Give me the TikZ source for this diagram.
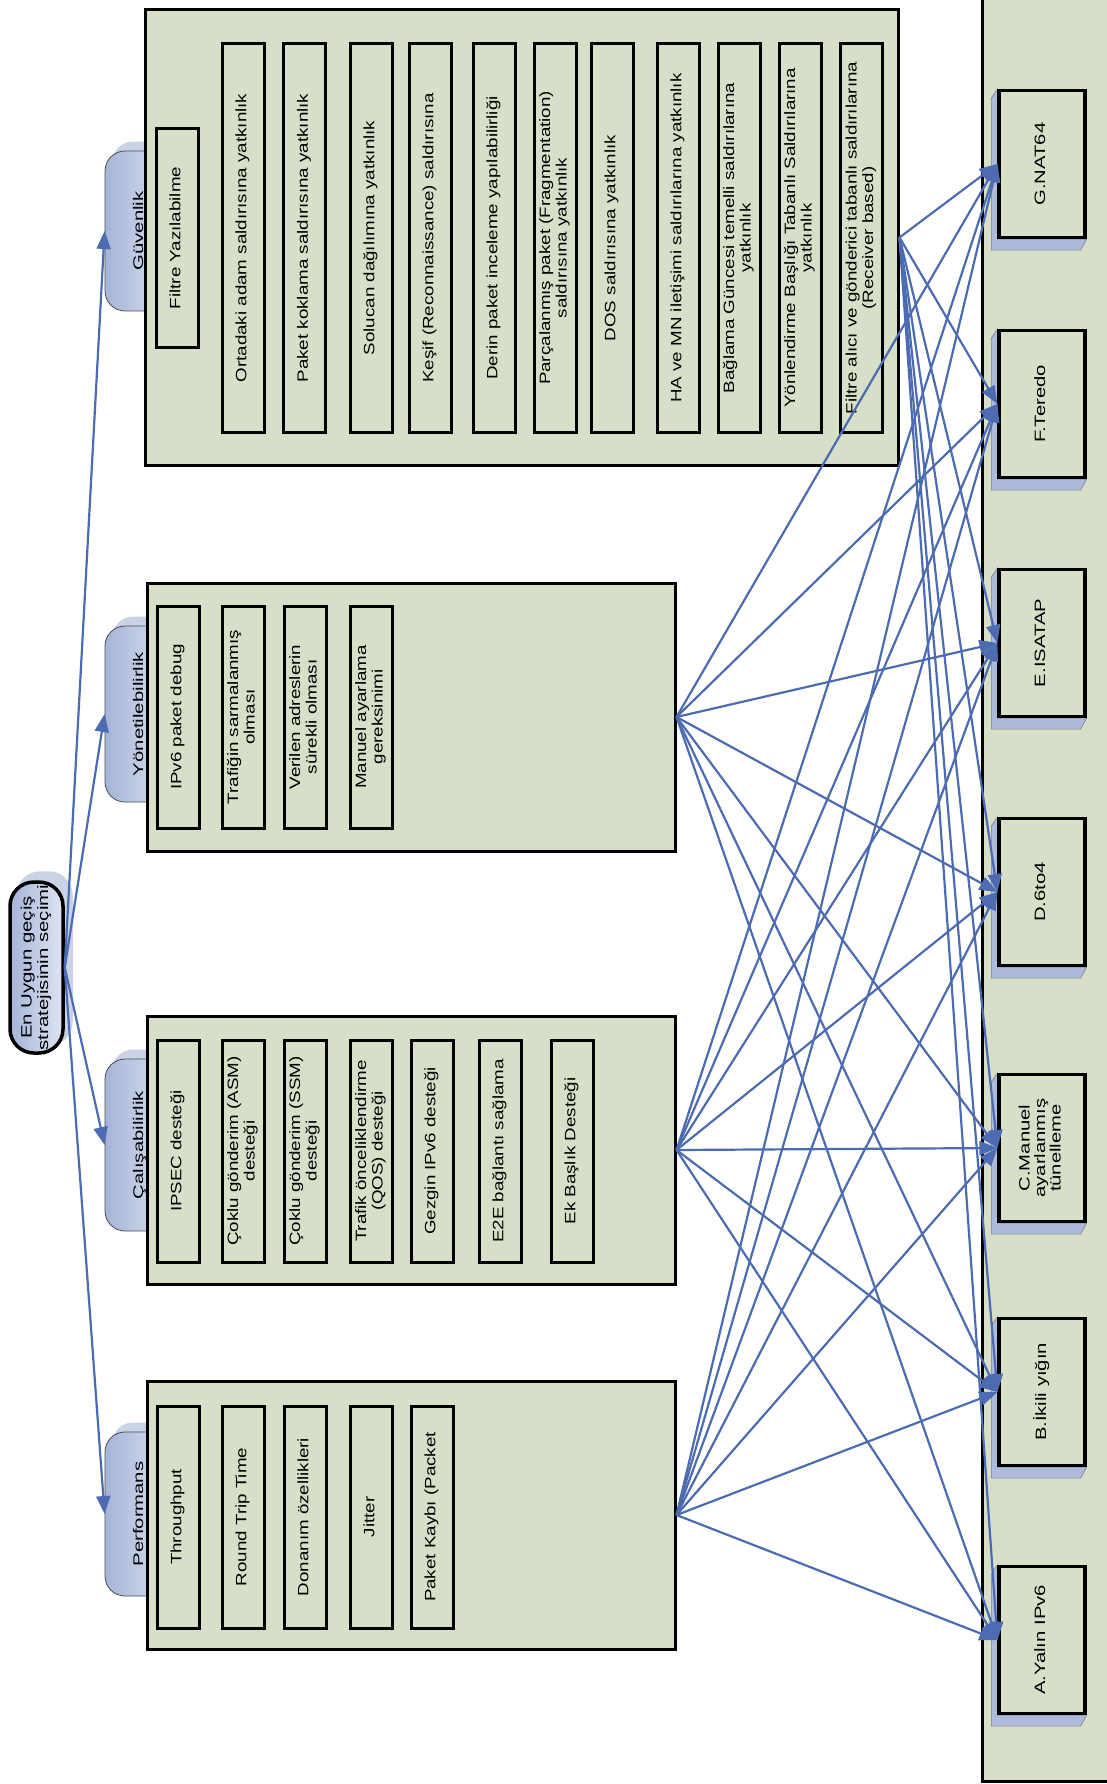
\documentclass[tikz,border=0pt]{standalone}
\usepackage{fontspec}
\setmainfont{Liberation Sans}
\usetikzlibrary{arrows.meta,backgrounds}
\definecolor{sage}{RGB}{215,223,200}
\definecolor{linkblue}{RGB}{76,107,176}
\definecolor{capblue}{RGB}{165,180,216}
\definecolor{caplight}{RGB}{222,228,242}
\definecolor{hatchblue}{RGB}{202,210,229}
\definecolor{altshade}{RGB}{172,186,220}
\newcommand{\vtext}[2][1.25]{\rotatebox{90}{\scalebox{#1}[1]{\begin{tabular}{@{}c@{}}#2\end{tabular}}}}
\begin{document}
\begin{tikzpicture}[
x=1pt,y=-1pt,
every node/.style={inner sep=0pt,font=\fontsize{15}{16.5}\selectfont},
critbox/.style={draw,line width=3pt,fill=sage},
itembox/.style={draw,line width=3pt,fill=sage,minimum width=42pt},
capsule/.style={draw=gray!60!black,line width=0.8pt,left color=capblue,right color=caplight,rounded corners=20pt,minimum width=70pt,font=\fontsize{14}{15}\selectfont},
goalbox/.style={draw,line width=3.5pt,left color=capblue,right color=caplight,rounded corners=24pt,minimum width=53pt,minimum height=171pt},
altbox/.style={draw,line width=3.2pt,fill=sage,minimum width=86pt,minimum height=147pt,font=\fontsize{15}{15.5}\selectfont},
linkarrow/.style={draw=linkblue,line width=2.2pt,-{Triangle[length=18pt,width=14pt]}}
]
\useasboundingbox (0,0) rectangle (1107,1784);

\node[goalbox] (goal) at (36.5,967.5) {\vtext[1.36]{En Uygun geçiş\\stratejisinin seçimi}};

% kriterler
\node[capsule,minimum height=160pt] (capGuv) at (140,231) {\vtext[1.45]{Güvenlik}\hspace{28pt}};
\node[capsule,minimum height=176pt] (capYon) at (140,714) {\vtext[1.45]{Yönetilebilirlik}\hspace{28pt}};
\node[capsule,minimum height=172pt] (capCal) at (140,1145) {\vtext[1.45]{Çalışabilirlik}\hspace{28pt}};
\node[capsule,minimum height=164pt] (capPerf) at (140,1514) {\vtext[1.45]{Performans}\hspace{28pt}};

\node[critbox,minimum width=753pt,minimum height=455pt] (guv) at (521.5,237.5) {};
\node[critbox,minimum width=528pt,minimum height=268pt] (yon) at (411,717) {};
\node[critbox,minimum width=528pt,minimum height=268pt] (cal) at (411,1150) {};
\node[critbox,minimum width=528pt,minimum height=268pt] (perf) at (411,1515) {};

% alt kriterler
\node[itembox,minimum height=218pt] (g1) at (177,238) {\vtext{Filtre Yazılabilme}};
\node[itembox,minimum height=388pt] (g2) at (243,238) {\vtext{Ortadaki adam saldırısına yatkınlık}};
\node[itembox,minimum height=388pt] (g3) at (304.5,238) {\vtext{Paket koklama saldırısına yatkınlık}};
\node[itembox,minimum height=388pt] (g4) at (371,238) {\vtext{Solucan dağılımına yatkınlık}};
\node[itembox,minimum height=388pt] (g5) at (430,238) {\vtext{Keşif (Reconnaissance) saldırısına}};
\node[itembox,minimum height=388pt] (g6) at (494,238) {\vtext{Derin paket inceleme yapılabilirliği}};
\node[itembox,minimum height=388pt] (g7) at (555,238) {\vtext{Parçalanmış paket (Fragmentation)\\saldırısına yatkınlık}};
\node[itembox,minimum height=388pt] (g8) at (612,238) {\vtext{DOS saldırısına yatkınlık}};
\node[itembox,minimum height=388pt] (g9) at (678,238) {\vtext{HA ve MN iletişimi saldırılarına yatkınlık}};
\node[itembox,minimum height=388pt] (g10) at (739,238) {\vtext{Bağlama Güncesi temelli saldırılarına\\yatkınlık}};
\node[itembox,minimum height=388pt] (g11) at (800,238) {\vtext{Yönlendirme Başlığı Tabanlı Saldırılarına\\yatkınlık}};
\node[itembox,minimum height=388pt] (g12) at (861.5,238) {\vtext{Filtre alıcı ve gönderici tabanlı saldırılarına\\(Receiver based)}};

\node[itembox,minimum height=222pt] (y1) at (178,717) {\vtext{IPv6 paket debug}};
\node[itembox,minimum height=222pt] (y2) at (243,717) {\vtext{Trafiğin sarmalanmış\\olması}};
\node[itembox,minimum height=222pt] (y3) at (305,717) {\vtext{Verilen adreslerin\\sürekli olması}};
\node[itembox,minimum height=222pt] (y4) at (371,717) {\vtext{Manuel ayarlama\\gereksinimi}};

\node[itembox,minimum height=222pt] (c1) at (178,1151) {\vtext{IPSEC desteği}};
\node[itembox,minimum height=222pt] (c2) at (243,1151) {\vtext{Çoklu gönderim (ASM)\\desteği}};
\node[itembox,minimum height=222pt] (c3) at (305,1151) {\vtext{Çoklu gönderim (SSM)\\desteği}};
\node[itembox,minimum height=222pt] (c4) at (371,1151) {\vtext{Trafik önceliklendirme\\(QOS) desteği}};
\node[itembox,minimum height=222pt] (c5) at (432,1151) {\vtext{Gezgin IPv6 desteği}};
\node[itembox,minimum height=222pt] (c6) at (500,1151) {\vtext{E2E bağlantı sağlama}};
\node[itembox,minimum height=222pt] (c7) at (572,1151) {\vtext{Ek Başlık Desteği}};

\node[itembox,minimum height=222pt] (p1) at (178,1517) {\vtext{Throughput}};
\node[itembox,minimum height=222pt] (p2) at (243,1517) {\vtext{Round Trip Time}};
\node[itembox,minimum height=222pt] (p3) at (305,1517) {\vtext{Donanım özellikleri}};
\node[itembox,minimum height=222pt] (p4) at (371,1517) {\vtext{Jitter}};
\node[itembox,minimum height=222pt] (p5) at (432,1517) {\vtext{Paket Kaybı (Packet}};

% alternatifler
\node[altbox] (altG) at (1042,164) {\vtext[1.35]{G.NAT64}};
\node[altbox] (altF) at (1042,404) {\vtext[1.35]{F.Teredo}};
\node[altbox] (altE) at (1042,643) {\vtext[1.35]{E.ISATAP}};
\node[altbox] (altD) at (1042,892) {\vtext[1.35]{D.6to4}};
\node[altbox] (altC) at (1042,1148) {\vtext[1.35]{C.Manuel\\ayarlanmış\\tünelleme}};
\node[altbox] (altB) at (1042,1392) {\vtext[1.35]{B.İkili yığın}};
\node[altbox] (altA) at (1042,1640) {\vtext[1.35]{A.Yalın IPv6}};

\begin{scope}[on background layer]
\draw[line width=3pt,fill=sage] (982,-10) rectangle (1125,1781);
\foreach \a in {A,...,G}
  \filldraw[fill=altshade,draw=gray,line width=0.6pt] (alt\a.north west) -- ++(-6,9) |- ([xshift=-6pt,yshift=-11pt]alt\a.south east) -- (alt\a.south east) -- (alt\a.south west) -- cycle;
\fill[hatchblue,rounded corners=24pt] ([xshift=8pt,yshift=9pt]goal.south west) rectangle ([xshift=8pt,yshift=9pt]goal.north east);
\foreach \c in {capGuv,capYon,capCal,capPerf}
  \fill[hatchblue,rounded corners=20pt] ([xshift=8pt,yshift=9pt]\c.south west) rectangle ([xshift=8pt,yshift=9pt]\c.north east);
\end{scope}

\draw[linkarrow] (goal.east) -- (capGuv.west);
\draw[linkarrow] (goal.east) -- (capYon.west);
\draw[linkarrow] (goal.east) -- (capCal.west);
\draw[linkarrow] (goal.east) -- (capPerf.west);

\foreach \a in {A,...,G}{
  \draw[linkarrow] (guv.east) -- (alt\a.west);
  \draw[linkarrow] (yon.east) -- (alt\a.west);
  \draw[linkarrow] (cal.east) -- (alt\a.west);
  \draw[linkarrow] (perf.east) -- (alt\a.west);
}
\end{tikzpicture}
\end{document}
